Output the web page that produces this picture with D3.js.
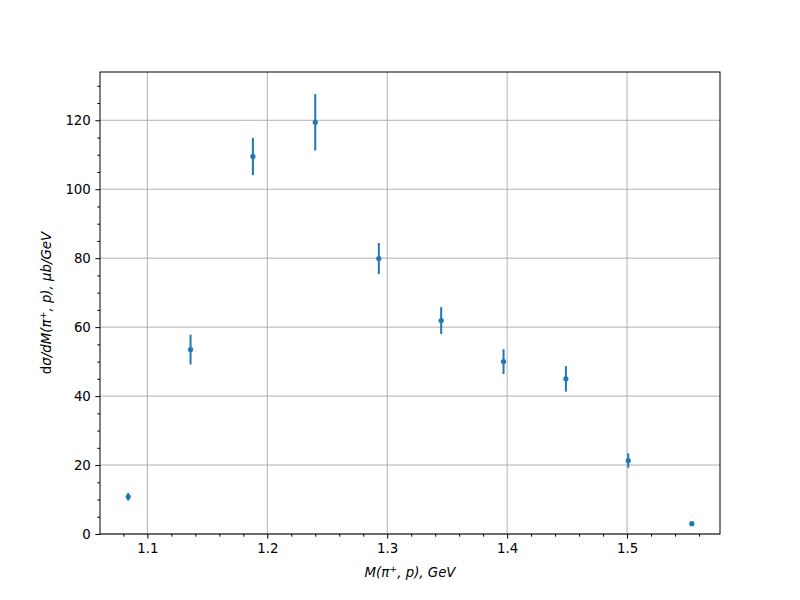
<!DOCTYPE html>
<html><head><meta charset="utf-8">
<script src="https://cdn.jsdelivr.net/npm/d3@7"></script>
<style>body{margin:0;background:#fff}svg{display:block}text{font-family:"DejaVu Sans",sans-serif}</style>
</head><body>
<svg id="c" width="800" height="600"></svg>
<script>
const massGeV = [1.084, 1.136, 1.188, 1.240, 1.293, 1.345, 1.397, 1.449, 1.501, 1.554];
const dsigma = [10.8, 53.5, 109.5, 119.4, 79.9, 61.9, 50.0, 45.0, 21.3, 3.0];
const dsigmaErr = [1.1, 4.3, 5.4, 8.2, 4.5, 3.9, 3.6, 3.7, 2.1, 0.3];
const xTicks = [1.1, 1.2, 1.3, 1.4, 1.5];
const yTicks = [0, 20, 40, 60, 80, 100, 120];

const W = 800, H = 600;
const m = {l: 100, r: 720, t: 72, b: 534};
const svg = d3.select("#c");
svg.append("rect").attr("width", W).attr("height", H).attr("fill", "#fff");

const x = d3.scaleLinear().domain([1.0605, 1.5775]).range([m.l, m.r]);
const y = d3.scaleLinear().domain([0, 134.0]).range([m.b, m.t]);

const g = svg.append("g");
// grid
g.selectAll(".gx").data(xTicks).join("line")
  .attr("x1", d => x(d)).attr("x2", d => x(d)).attr("y1", m.t).attr("y2", m.b)
  .attr("stroke", "#b0b0b0").attr("stroke-width", 1);
g.selectAll(".gy").data(yTicks).join("line")
  .attr("y1", d => y(d)).attr("y2", d => y(d)).attr("x1", m.l).attr("x2", m.r)
  .attr("stroke", "#b0b0b0").attr("stroke-width", 1);

// axes
const xAxis = d3.axisBottom(x).tickValues(xTicks).tickFormat(d3.format(".1f")).tickSizeInner(4.67).tickSizeOuter(0).tickPadding(4.5);
const xMinor = d3.axisBottom(x).tickValues(d3.range(1.08, 1.58, 0.02).filter(v => Math.abs(v*10 - Math.round(v*10)) > 1e-6)).tickFormat("").tickSizeInner(2.67).tickSizeOuter(0);
const yAxis = d3.axisLeft(y).tickValues(yTicks).tickFormat(d3.format("d")).tickSizeInner(4.67).tickSizeOuter(0).tickPadding(4.5);
const yMinor = d3.axisLeft(y).tickValues(d3.range(5, 134, 5).filter(v => v % 20 !== 0)).tickFormat("").tickSizeInner(2.67).tickSizeOuter(0);

function style(sel){
  sel.select(".domain").remove();
  sel.selectAll("line").attr("stroke", "#000").attr("stroke-width", 1);
  sel.selectAll("text").attr("font-size", "13.33px").attr("fill", "#000").attr("font-family", "DejaVu Sans");
}
svg.append("g").attr("transform", `translate(0,${m.b})`).call(xAxis).call(style);
svg.append("g").attr("transform", `translate(0,${m.b})`).call(xMinor).call(style);
svg.append("g").attr("transform", `translate(${m.l},0)`).call(yAxis).call(style);
svg.append("g").attr("transform", `translate(${m.l},0)`).call(yMinor).call(style);

// frame
svg.append("rect").attr("x", m.l).attr("y", m.t).attr("width", m.r - m.l).attr("height", m.b - m.t)
  .attr("fill", "none").attr("stroke", "#000").attr("stroke-width", 1);

// data
const pts = massGeV.map((v, i) => ({x: v, y: dsigma[i], e: dsigmaErr[i]}));
const c = "#1f77b4";
svg.append("g").selectAll("line").data(pts).join("line")
  .attr("x1", d => x(d.x)).attr("x2", d => x(d.x))
  .attr("y1", d => y(d.y - d.e)).attr("y2", d => y(d.y + d.e))
  .attr("stroke", c).attr("stroke-width", 2);
svg.append("g").selectAll("circle").data(pts).join("circle")
  .attr("cx", d => x(d.x)).attr("cy", d => y(d.y)).attr("r", 2.6).attr("fill", c);

// labels
const xl = svg.append("text").attr("x", (m.l + m.r) / 2).attr("y", 577).attr("text-anchor", "middle")
  .attr("font-size", "13.33px").attr("font-style", "italic");
xl.append("tspan").text("M(π");
xl.append("tspan").attr("dy", -5).attr("font-size", "9.5px").attr("font-style", "normal").text("+");
xl.append("tspan").attr("dy", 5).text(", p), GeV");

const yl = svg.append("text").attr("transform", `translate(51,${(m.t + m.b) / 2}) rotate(-90)`)
  .attr("text-anchor", "middle").attr("font-size", "13.33px");
yl.append("tspan").text("d");
yl.append("tspan").attr("font-style", "italic").text("σ/dM(π");
yl.append("tspan").attr("dy", -5).attr("font-size", "9.5px").text("+");
yl.append("tspan").attr("dy", 5).attr("font-style", "italic").text(", p), μb/GeV");
</script>
</body></html>
